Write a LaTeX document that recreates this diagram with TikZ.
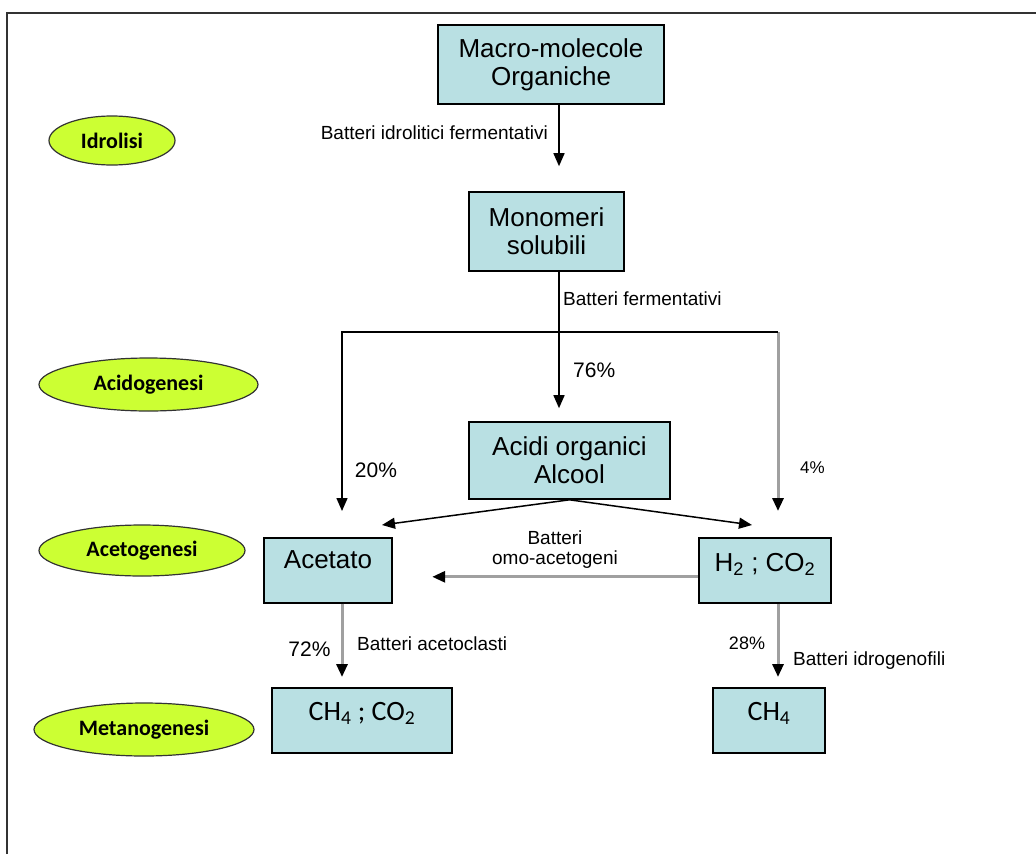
\documentclass[tikz,border=0pt]{standalone}
\usepackage{fontspec}
\setmainfont{Liberation Sans}
\newfontfamily\calib{Carlito}
\usetikzlibrary{shapes.geometric,arrows.meta}
\definecolor{boxfill}{RGB}{185,224,227}
\definecolor{phasefill}{RGB}{204,255,51}
\definecolor{greyline}{RGB}{160,160,160}

\begin{document}
\begin{tikzpicture}[x=1pt,y=-1pt,
	box/.style={draw=black,line width=1.6pt,fill=boxfill,align=center,inner sep=0pt,font=\fontsize{26}{28}\selectfont},
	phase/.style={ellipse,draw=black!80,line width=1.2pt,fill=phasefill,inner sep=0pt,font=\calib\bfseries\fontsize{22}{24}\selectfont},
	lbl/.style={inner sep=0pt,font=\fontsize{19}{20}\selectfont},
	pct/.style={inner sep=0pt,font=\fontsize{21}{22}\selectfont},
	blk/.style={line width=1.5pt,black},
	gry/.style={line width=3pt,greyline},
	tip/.style={-{Triangle[width=11pt,length=13pt,color=black]}}]
		\useasboundingbox (0,0) rectangle (1036,854);
		\draw [line width=2pt,black!80] (7,854) -- (7,12.5) -- (1036,12.5);
		
		% phases
		\node [phase,minimum width=126pt,minimum height=49pt] (idrolisi) at (112,140.5) {Idrolisi};
		\node [phase,minimum width=219pt,minimum height=53pt] (acidogenesi) at (148.5,384.5) {Acidogenesi};
		\node [phase,minimum width=206pt,minimum height=51pt] (acetogenesi) at (142,550.5) {Acetogenesi};
		\node [phase,minimum width=220pt,minimum height=53pt] (metanogenesi) at (144,729.5) {Metanogenesi};
		
		% boxes
		\node [box,minimum width=226pt,minimum height=79pt] (macro) at (551,64.5) {Macro-molecole\\Organiche};
		\node [box,minimum width=155pt,minimum height=79pt] (mono) at (546.5,231.5) {Monomeri\\solubili};
		\node [box,minimum width=201pt,minimum height=77pt] (acidi) at (569.5,460.5) {Acidi organici\\Alcool};
		\node [box,anchor=north,minimum width=128pt,text height=31pt,text depth=34pt] (acetato) at (328,537) {Acetato};
		\node [box,anchor=north,minimum width=132pt,text height=34pt,text depth=31pt] (h2) at (765,537) {H\textsubscript{2} ; CO\textsubscript{2}};
		\node [box,anchor=north,minimum width=180pt,text height=33pt,text depth=32pt,font=\calib\fontsize{28}{30}\selectfont] (ch4co2) at (362,687) {CH\textsubscript{4} ; CO\textsubscript{2}};
		\node [box,anchor=north,minimum width=112pt,text height=33pt,text depth=32pt,font=\calib\fontsize{28}{30}\selectfont] (ch4) at (769,687) {CH\textsubscript{4}};
		
		% arrows
		\coordinate (split) at (559,332); \coordinate (sl) at (342,332); \coordinate (sr) at (778,332);
		\coordinate (tl) at (382,525); \coordinate (tr) at (752,525);
		\draw [blk,tip,shorten >=25pt] ([xshift=8pt]macro.south) -- ([xshift=8pt]macro.south |- mono.north);
		\draw [blk] (split |- mono.south) -- (split);
		\draw [blk,tip,shorten >=13pt] (split) -- (split |- acidi.north);
		\draw [gry,tip,shorten >=26pt] (sr) -- (sr |- h2.north);
		\draw [blk,tip,shorten >=26pt] (sr) -- (sl) -- (sl |- acetato.north);
		\draw [blk,tip] (acidi.south) -- (tl);
		\draw [blk,tip] (acidi.south) -- (tr);
		\draw [gry,tip] ([yshift=-6.5pt]h2.west) -- ++(-266,0);
		\draw [gry,tip,shorten >=10pt] (sl |- acetato.south) -- (sl |- ch4co2.north);
		\draw [gry,tip,shorten >=10pt] (sr |- h2.south) -- (sr |- ch4.north);
		
		% labels
		\node [lbl,anchor=base east] (bidro) at (548,139) {Batteri idrolitici fermentativi};
		\node [lbl,anchor=base west] (bferm) at (563,305) {Batteri fermentativi};
		\node [pct,anchor=base west] (p76) at (573,377) {76\%};
		\node [pct] (p20) at (376,470) {20\%};
		\node [pct,font=\fontsize{17}{18}\selectfont] (p4) at (812.5,468) {4\%};
		\node [lbl,align=center] (bomo) at (555,550) {Batteri\\omo-acetogeni};
		\node [pct] (p72) at (309.5,649) {72\%};
		\node [lbl,anchor=base west] (bacet) at (357,650) {Batteri acetoclasti};
		\node [pct,font=\fontsize{18}{19}\selectfont] (p28) at (747,643) {28\%};
		\node [lbl,anchor=base west] (bidrog) at (793,665) {Batteri idrogenofili};
\end{tikzpicture}
\end{document}
